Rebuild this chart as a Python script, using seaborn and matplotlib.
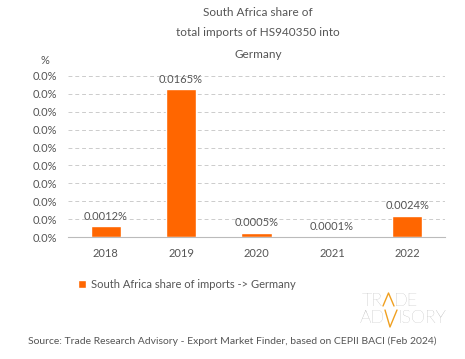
import numpy as np
import pandas as pd
import seaborn as sns
import matplotlib.pyplot as plt

# Chart data
years = ['2018', '2019', '2020', '2021', '2022']
share_pct = [0.0012, 0.0165, 0.0005, 0.0001, 0.0024]
bar_labels = ['0.0012%', '0.0165%', '0.0005%', '0.0001%', '0.0024%']
y_ticks = [0.000, 0.002, 0.004, 0.006, 0.008, 0.010, 0.012, 0.014, 0.016, 0.018]

ORANGE = '#ff6600'
TEXT = '#555555'
LOGO_GREY = '#9a9a9a'
LOGO_ORANGE = '#f0a020'


def fx(px):
    return px / 465


def fy(py):
    return 1 - py / 359


def main():
    sns.set_theme(style='white')
    plt.rcParams['font.family'] = ['Lato', 'DejaVu Sans']

    df = pd.DataFrame({'year': years, 'share': share_pct})

    fig = plt.figure(figsize=(4.65, 3.59), dpi=100)
    ax = fig.add_axes([fx(68), fy(237), 377 / 465, 161 / 359])

    sns.barplot(data=df, x='year', y='share', color=ORANGE, width=0.4,
                saturation=1, ax=ax, label='South Africa share of imports -> Germany')

    ax.set_ylim(0, 0.018)
    ax.set_yticks(y_ticks)
    ax.set_yticklabels(['0.0%'] * len(y_ticks))
    ax.set_xlabel('')
    ax.set_ylabel('')
    ax.tick_params(axis='both', length=0, labelsize=8, colors=TEXT, pad=8)
    for tick in y_ticks[1:]:
        ax.axhline(tick, color='#cccccc', lw=0.7, ls=(0, (4, 3)), zorder=0)
    for side in ['top', 'right', 'left']:
        ax.spines[side].set_visible(False)
    ax.spines['bottom'].set_color('#bbbbbb')
    ax.spines['bottom'].set_linewidth(0.8)

    for i, (v, lab) in enumerate(zip(share_pct, bar_labels)):
        ax.annotate(lab, (i, v), xytext=(0, 3), textcoords='offset points',
                    ha='center', va='bottom', fontsize=8, color=TEXT)

    ax.legend(loc='upper left', bbox_to_anchor=(0.0, -0.2), frameon=False,
              fontsize=8, handlelength=0.7, handleheight=0.7, handletextpad=0.5,
              labelcolor=TEXT)

    # title and axis unit
    fig.text(fx(258), fy(12), 'South Africa share of', ha='center', va='center',
             fontsize=8.5, color=TEXT)
    fig.text(fx(258), fy(33), 'total imports of HS940350 into', ha='center',
             va='center', fontsize=8.5, color=TEXT)
    fig.text(fx(258), fy(55), 'Germany', ha='center', va='center',
             fontsize=8.5, color=TEXT)
    fig.text(fx(45), fy(61), '%', ha='center', va='center', fontsize=8, color=TEXT)

    # logo
    logo = dict(va='baseline', fontsize=13, color=LOGO_GREY, fontweight='light')
    fig.text(fx(383), fy(306), 'TR', ha='right', **logo)
    fig.text(fx(394), fy(306), 'DE', ha='left', **logo)
    fig.text(fx(385), fy(323), 'AD', ha='right', **logo)
    fig.text(fx(398), fy(323), 'ISORY', ha='left', **logo)
    fig.lines.append(plt.Line2D([fx(383), fx(388.5), fx(394)], [fy(306), fy(293), fy(306)],
                                transform=fig.transFigure, color=LOGO_ORANGE, lw=1.0))
    fig.lines.append(plt.Line2D([fx(385), fx(390), fx(397)], [fy(310), fy(327), fy(310)],
                                transform=fig.transFigure, color=LOGO_ORANGE, lw=1.0))

    fig.text(fx(232), fy(341),
             'Source: Trade Research Advisory - Export Market Finder, based on CEPII BACI (Feb 2024)',
             ha='center', va='center', fontsize=7.5, color=TEXT)

    fig.savefig('out.png', dpi=100, facecolor='white')


if __name__ == '__main__':
    main()
